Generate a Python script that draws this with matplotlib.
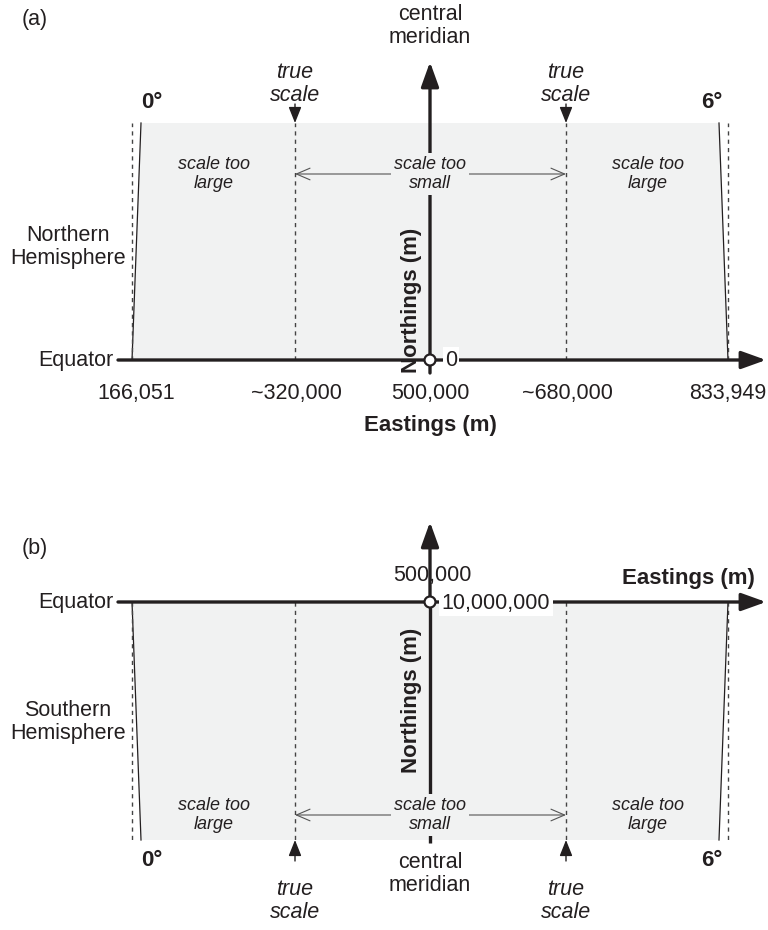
import matplotlib
matplotlib.use("Agg")
import matplotlib.pyplot as plt
from matplotlib.patches import Polygon, Circle

plt.rcParams['font.family'] = ['Liberation Sans', 'DejaVu Sans']

INK = '#231f20'
SHADE = '#f1f2f2'
DASH = '#444444'

# Zone geometry (schematic, figure-pixel units)
zone_edges = [132, 728]            # 0° and 6° meridians at the equator
zone_edges_far = [141, 719]        # meridians converging away from the equator
true_scale_x = [295, 566]
central_x = 430

easting_labels = ["166,051", "~320,000", "500,000", "~680,000", "833,949"]
easting_x = [136, 296, 430, 567, 728]
meridian_labels = ["0°", "6°"]
meridian_label_x = [152, 712]
region_labels = ["scale too\nlarge", "scale too\nsmall", "scale too\nlarge"]
region_label_x = [214, 430, 648]

BIG = 15.5
fig = plt.figure(figsize=(7.68, 9.30), dpi=100)
ax = fig.add_axes([0, 0, 1, 1])
ax.set_xlim(0, 768)
ax.set_ylim(930, 0)
ax.axis('off')


def axis_arrow(x0, y0, x1, y1):
    ax.annotate('', xy=(x1, y1), xytext=(x0, y0),
                arrowprops=dict(arrowstyle='-|>,head_length=0.75,head_width=0.27',
                                lw=2.4, color=INK, mutation_scale=20,
                                shrinkA=0, shrinkB=0), zorder=5)


def small_arrow(x, y0, y1):
    ax.annotate('', xy=(x, y1), xytext=(x, y0),
                arrowprops=dict(arrowstyle='-|>,head_length=0.65,head_width=0.26',
                                lw=1.0, color=INK, mutation_scale=15,
                                shrinkA=0, shrinkB=0), zorder=5)


def panel(eq_y, far_y, north):
    # shaded zone between converging meridians
    xs0, xs1 = zone_edges
    xf0, xf1 = zone_edges_far
    ax.add_patch(Polygon([(xs0, eq_y), (xs1, eq_y), (xf1, far_y), (xf0, far_y)],
                         closed=True, facecolor=SHADE, edgecolor='none', zorder=1))
    # bounding meridians (solid) and grid-north lines (dashed)
    for xs, xf in zip(zone_edges, zone_edges_far):
        ax.plot([xs, xf], [eq_y, far_y], color=INK, lw=0.9, zorder=3)
        ax.plot([xs, xs], [eq_y, far_y], color=DASH, lw=1.0,
                ls=(0, (3, 3)), zorder=3)
    for x in true_scale_x:
        ax.plot([x, x], [eq_y, far_y], color=DASH, lw=1.0,
                ls=(0, (3, 3)), zorder=3)

    # region labels with the "too small" span arrow
    mid = far_y + 51 if north else far_y - 25
    ax.annotate('', xy=(true_scale_x[0], mid), xytext=(true_scale_x[1], mid),
                arrowprops=dict(arrowstyle='<->,head_length=0.7,head_width=0.3',
                                lw=0.8, color='#555555', mutation_scale=14,
                                shrinkA=0, shrinkB=0), zorder=4)
    for lab, x in zip(region_labels, region_label_x):
        bg = dict(facecolor=SHADE, edgecolor='none', pad=2) if x == central_x else None
        ax.text(x, mid, lab, ha='center', va='center', fontsize=13,
                style='italic', color=INK, linespacing=1.14, zorder=7, bbox=bg)

    # meridian labels
    lab_y = far_y - 20 if north else far_y + 20
    for lab, x in zip(meridian_labels, meridian_label_x):
        ax.text(x, lab_y, lab, ha='center', va='center', fontsize=16,
                fontweight='bold', color=INK)

    # true scale markers
    for x in true_scale_x:
        if north:
            small_arrow(x, far_y - 19, far_y)
            ax.text(x, far_y - 39, "true\nscale", ha='center', va='center',
                    fontsize=BIG, style='italic', color=INK, linespacing=1.12)
        else:
            small_arrow(x, far_y + 21, far_y)
            ax.text(x, far_y + 61, "true\nscale", ha='center', va='center',
                    fontsize=BIG, style='italic', color=INK, linespacing=1.12)


# ---------------- (a) northern hemisphere ----------------
eq_a, top_a = 360, 123
panel(eq_a, top_a, north=True)
axis_arrow(118, eq_a, 766, eq_a)
axis_arrow(central_x, eq_a + 13, central_x, 62)
ax.add_patch(Circle((central_x, eq_a), 5.5, facecolor='white', edgecolor=INK,
                    lw=1.6, zorder=8))
ax.text(451, eq_a, "0", ha='center', va='center', fontsize=BIG, color=INK,
        zorder=9, bbox=dict(facecolor='white', edgecolor='none', pad=1.5))
ax.text(central_x, 26, "central\nmeridian", ha='center', va='center',
        fontsize=BIG, color=INK, linespacing=1.12)
ax.text(411, 300, "Northings (m)", ha='center', va='center', rotation=90,
        fontsize=16, fontweight='bold', color=INK, zorder=9)
ax.text(113, eq_a, "Equator", ha='right', va='center', fontsize=BIG, color=INK)
ax.text(68, 247, "Northern\nHemisphere", ha='center', va='center', fontsize=BIG,
        color=INK, linespacing=1.18)
for lab, x in zip(easting_labels, easting_x):
    ax.text(x, 393, lab, ha='center', va='center', fontsize=BIG, color=INK)
ax.text(central_x, 425, "Eastings (m)", ha='center', va='center', fontsize=16,
        fontweight='bold', color=INK)
ax.text(22, 20, "(a)", ha='left', va='center', fontsize=BIG, color=INK)

# ---------------- (b) southern hemisphere ----------------
eq_b, bot_b = 602, 840
panel(eq_b, bot_b, north=False)
axis_arrow(118, eq_b, 766, eq_b)
ax.plot([central_x, central_x], [bot_b + 3, eq_b], color=INK, lw=2.4, zorder=5,
        solid_capstyle='butt')
axis_arrow(central_x, eq_b, central_x, 522)
ax.add_patch(Circle((central_x, eq_b), 5.5, facecolor='white', edgecolor=INK,
                    lw=1.6, zorder=8))
ax.text(496, eq_b + 1, "10,000,000", ha='center', va='center', fontsize=BIG,
        color=INK, zorder=9, bbox=dict(facecolor='white', edgecolor='none', pad=2))
ax.text(432, 575, "500,000", ha='center', va='center', fontsize=BIG,
        color=INK, zorder=9)
ax.text(755, 578, "Eastings (m)", ha='right', va='center', fontsize=16,
        fontweight='bold', color=INK)
ax.text(central_x, 874, "central\nmeridian", ha='center', va='center',
        fontsize=BIG, color=INK, linespacing=1.12)
ax.text(411, 700, "Northings (m)", ha='center', va='center', rotation=90,
        fontsize=16, fontweight='bold', color=INK, zorder=9)
ax.text(113, eq_b, "Equator", ha='right', va='center', fontsize=BIG, color=INK)
ax.text(68, 722, "Southern\nHemisphere", ha='center', va='center', fontsize=BIG,
        color=INK, linespacing=1.18)
ax.text(22, 548, "(b)", ha='left', va='center', fontsize=BIG, color=INK)

fig.savefig("out.png", dpi=100, facecolor='white')
